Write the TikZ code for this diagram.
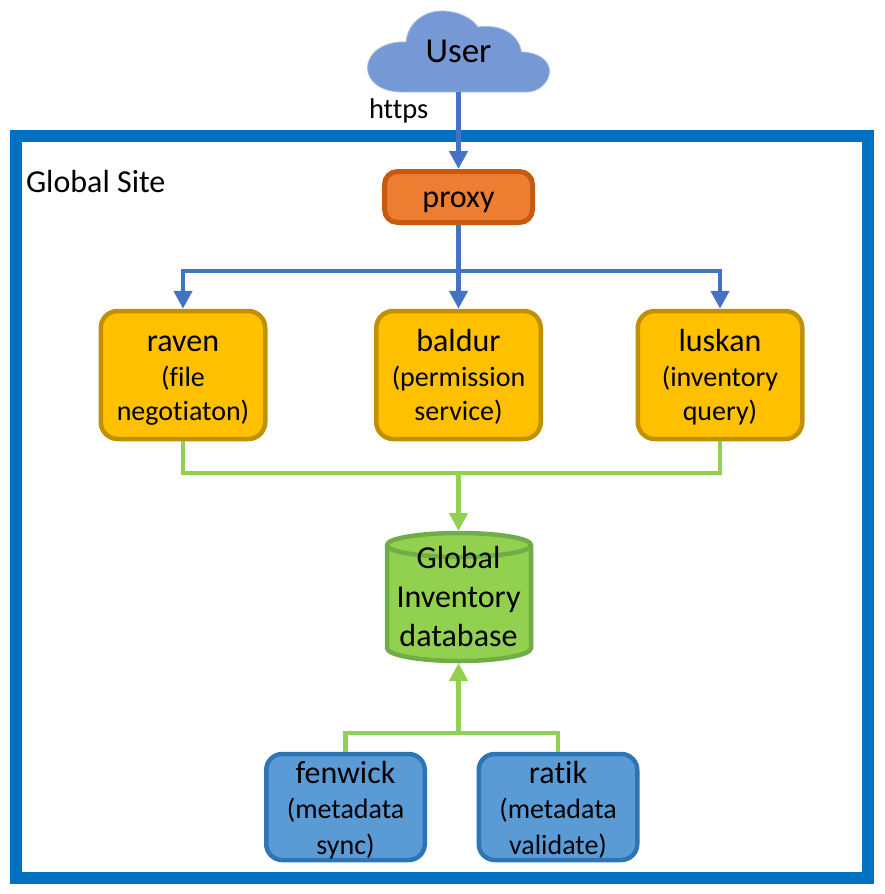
\documentclass[tikz,border=0pt]{standalone}
\usepackage{fontspec}
\setmainfont[Ligatures=NoCommon]{Carlito}
\usetikzlibrary{arrows.meta}
\definecolor{framec}{HTML}{0070C0}
\definecolor{bluec}{HTML}{4472C4}
\definecolor{greenc}{HTML}{92D050}
\definecolor{cloudc}{HTML}{7698D4}
\definecolor{cloudl}{HTML}{A9BEE4}
\definecolor{proxyf}{HTML}{ED7D31}
\definecolor{proxyd}{HTML}{C55A11}
\definecolor{yellf}{HTML}{FFC000}
\definecolor{yelld}{HTML}{BF9000}
\definecolor{dbd}{HTML}{70AD47}
\definecolor{bluef}{HTML}{5B9BD5}
\definecolor{blued}{HTML}{2E75B6}
\newcommand\lgf{\fontsize{32}{32}\selectfont}
\newcommand\smf{\fontsize{28}{28}\selectfont}
\newcommand\stacked[3]{\raisebox{#1}[0pt][0pt]{\vtop{\baselineskip=#2\lineskiplimit=-100pt\halign{\hfil##\hfil\cr #3\crcr}}}}
\tikzset{
  servbox/.style={draw=yelld,fill=yellf,line width=4.5pt,rounded corners=17pt,minimum width=164.5pt,minimum height=128pt,inner sep=0pt},
  workbox/.style={draw=blued,fill=bluef,line width=4.5pt,rounded corners=16pt,minimum width=158.5pt,minimum height=106pt,inner sep=0pt},
  proxybox/.style={draw=proxyd,fill=proxyf,line width=5pt,rounded corners=13pt,minimum width=148pt,minimum height=51pt,inner sep=0pt},
  plain/.style={inner sep=0pt,outer sep=0pt},
  blueflow/.style={draw=bluec,line width=4.5pt,-{Triangle[length=18pt,width=18pt]}},
  greenflow/.style={draw=greenc,line width=4.5pt,-{Triangle[length=18pt,width=18pt]}},
  greenline/.style={draw=greenc,line width=4.5pt}
}
\begin{document}
\begin{tikzpicture}[x=1pt,y=-1pt]
\useasboundingbox (0,0) rectangle (884,894);
\node[plain,draw=framec,line width=12pt,minimum width=852pt,minimum height=742pt] (site) at (442,506.5) {};
\fill[cloudc,draw=cloudl,line width=0.8pt] (402,92)
  .. controls (382,92) and (367.5,82) .. (367.5,68)
  .. controls (367.5,52) and (385,41) .. (406,42)
  .. controls (408,22) and (425,11) .. (442,11)
  .. controls (458,11) and (472,18) .. (478,27)
  .. controls (500,24) and (518,33) .. (521.5,52)
  .. controls (537,52) and (549.5,60) .. (549.5,71)
  .. controls (549.5,83) and (538,92) .. (527,92) -- cycle;
\node[plain,minimum width=183pt,minimum height=82pt] (user) at (458.5,51) {\stacked{-11pt}{34pt}{\fontsize{35}{35}\selectfont User}};
\node[plain,anchor=base west] (https) at (369,118) {\fontsize{28.5}{28.5}\selectfont https};
\node[plain,anchor=base west] (sitelabel) at (26,192) {\fontsize{32}{32}\selectfont Global Site};
\node[proxybox] (proxy) at (458.5,197) {\stacked{-10pt}{34pt}{\lgf proxy}};
\node[servbox] (raven) at (183,375) {\stacked{23.5pt}{34.5pt}{\lgf raven\cr \smf (file\cr \smf negotiaton)}};
\node[servbox] (baldur) at (458.5,375) {\stacked{23.5pt}{34.5pt}{\lgf baldur\cr \smf (permission\cr \smf service)}};
\node[servbox] (luskan) at (720,375) {\stacked{23.5pt}{34.5pt}{\lgf luskan\cr \smf (inventory\cr \smf query)}};
\filldraw[fill=greenc,draw=dbd,line width=4.5pt] (387,545) arc[start angle=180,end angle=0,x radius=72pt,y radius=12pt] -- (531,648) arc[start angle=0,end angle=-180,x radius=72pt,y radius=13pt] -- cycle;
\draw[draw=dbd,line width=4.5pt] (387,545) arc[start angle=180,end angle=360,x radius=72pt,y radius=12pt];
\node[plain,minimum width=148pt,minimum height=132pt] (db) at (458.5,597) {\stacked{29pt}{39pt}{\lgf Global\cr \lgf Inventory\cr \lgf database}};
\node[workbox] (fenwick) at (345.5,807) {\stacked{24pt}{35.5pt}{\lgf fenwick\cr \smf (metadata\cr \smf sync)}};
\node[workbox] (ratik) at (558,807) {\stacked{24pt}{35.5pt}{\lgf ratik\cr \smf (metadata\cr \smf validate)}};
\coordinate (bus) at (458.5,271);
\coordinate (collect) at (458.5,473);
\coordinate (merge) at (458.5,733);
\draw[blueflow] (user.south) -- (proxy.north);
\draw[blueflow] (proxy.south) -- (bus) -- (baldur.north);
\draw[blueflow] (bus) -| (raven.north);
\draw[blueflow] (bus) -| (luskan.north);
\draw[greenline] (raven.south) |- (collect) -| (luskan.south);
\draw[greenflow] (collect) -- (db.north);
\draw[greenline] (fenwick.north) |- (merge) -| (ratik.north);
\draw[greenflow] (merge) -- (db.south);
\end{tikzpicture}
\end{document}
